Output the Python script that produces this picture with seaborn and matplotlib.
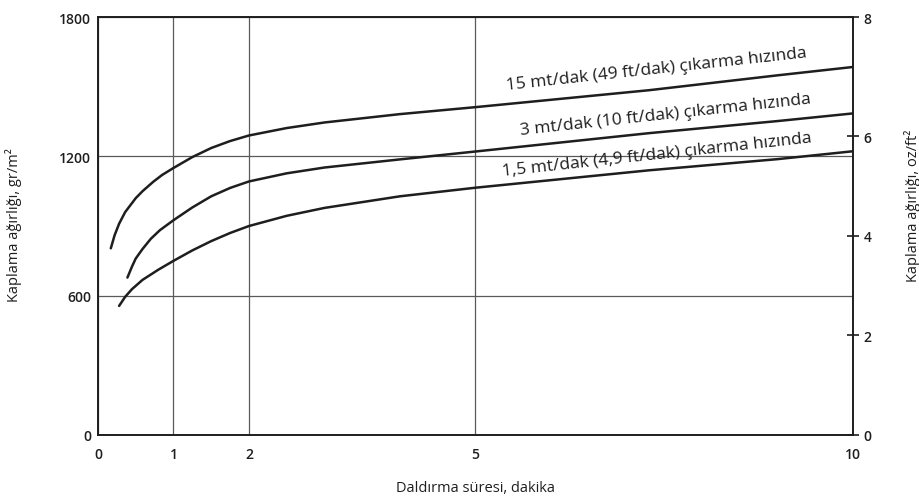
import numpy as np
import pandas as pd
import matplotlib
matplotlib.use("Agg")
import matplotlib.pyplot as plt
import seaborn as sns

# Dipping time (minutes) and coating weight (g/m²) for three withdrawal speeds
x_15 = [0.17, 0.22, 0.28, 0.36, 0.5, 0.59, 0.73, 0.85, 1.0, 1.25, 1.5, 1.75,
        2.0, 2.5, 3.0, 4.0, 5.0, 7.3, 9.0, 10.0]
y_15 = [804, 860, 910, 960, 1020, 1050, 1090, 1120, 1150, 1197, 1236, 1266,
        1290, 1322, 1346, 1382, 1412, 1485, 1549, 1585]

x_3 = [0.39, 0.45, 0.5, 0.59, 0.7, 0.82, 1.0, 1.25, 1.5, 1.75, 2.0, 2.5, 3.0,
       4.0, 5.0, 7.3, 9.0, 10.0]
y_3 = [678, 725, 760, 801, 845, 882, 925, 980, 1028, 1064, 1092, 1127, 1152,
       1187, 1221, 1300, 1352, 1385]

x_15b = [0.28, 0.36, 0.45, 0.59, 0.8, 1.0, 1.25, 1.5, 1.75, 2.0, 2.5, 3.0,
         4.0, 5.0, 7.3, 9.0, 10.0]
y_15b = [556, 595, 628, 668, 712, 750, 795, 835, 870, 900, 944, 978, 1028,
         1065, 1140, 1188, 1222]

series_names = ["15 mt/dak (49 ft/dak) çıkarma hızında",
                "3 mt/dak (10 ft/dak) çıkarma hızında",
                "1,5 mt/dak (4,9 ft/dak) çıkarma hızında"]

x_ticks = [0, 1, 2, 5, 10]
y_ticks = [0, 600, 1200, 1800]
oz_ticks = [0, 2, 4, 6, 8]

# caption anchor (minutes, g/m²) for each curve
label_x = [7.4, 7.52, 7.4]
label_y = [1578, 1380, 1210]

frames = []
for name, xs, ys in zip(series_names, [x_15, x_3, x_15b], [y_15, y_3, y_15b]):
    frames.append(pd.DataFrame({"süre": xs, "ağırlık": ys, "hız": name}))
df = pd.concat(frames, ignore_index=True)

sns.set_theme(style="white")
plt.rcParams["font.family"] = ["Open Sans", "DejaVu Sans"]

ink = "#1e1e1e"
fig = plt.figure(figsize=(9.2, 5.02), dpi=100)
ax = fig.add_axes([0.1065, 0.1315, 0.8205, 0.8325])

sns.lineplot(data=df, x="süre", y="ağırlık", hue="hız", hue_order=series_names,
             palette=[ink] * 3, linewidth=1.8, legend=False, sort=False,
             estimator=None, ax=ax, zorder=3)

ax.set_xlim(0, 10)
ax.set_ylim(0, 1800)
ax.set_xticks(x_ticks)
ax.set_yticks(y_ticks)
ax.grid(True, color="#5a5a5a", linewidth=0.9)
ax.set_axisbelow(True)
for s in ax.spines.values():
    s.set_color(ink)
    s.set_linewidth(1.4)

ax.tick_params(axis="x", length=0, pad=9, labelsize=10, labelcolor=ink)
ax.tick_params(axis="y", length=0, pad=5, labelsize=10, labelcolor=ink)
for lab in ax.get_xticklabels() + ax.get_yticklabels():
    lab.set_fontweight("semibold")

ax.set_xlabel("Daldırma süresi, dakika", fontsize=10.5, color=ink)
ax.set_ylabel("Kaplama ağırlığı, gr/m²", fontsize=10.5, color=ink)
ax.xaxis.set_label_coords(0.5, -0.108)
ax.yaxis.set_label_coords(-0.101, 0.505)

# right-hand scale in oz/ft²
g_pts = [0, 1286, 1800]
oz_pts = [0, 6, 8]
sec = ax.secondary_yaxis("right",
                         functions=(lambda g: np.interp(g, g_pts, oz_pts),
                                    lambda o: np.interp(o, oz_pts, g_pts)))
sec.set_yticks(oz_ticks)
sec.tick_params(direction="inout", length=9, width=1.2, color=ink,
                pad=3, labelsize=10, labelcolor=ink)
for lab in sec.get_yticklabels():
    lab.set_fontweight("semibold")
sec.spines["right"].set_visible(False)
sec.set_ylabel("Kaplama ağırlığı, oz/ft²", fontsize=10.5, color=ink)
sec.yaxis.set_label_coords(1.068, 0.55, transform=ax.transAxes)

for name, lx, ly in zip(series_names, label_x, label_y):
    ax.text(lx, ly, name, rotation=6.2, rotation_mode="anchor",
            ha="center", va="center", fontsize=12.5, fontweight=500,
            color=ink)

fig.savefig("out.png", dpi=100, facecolor="white")
